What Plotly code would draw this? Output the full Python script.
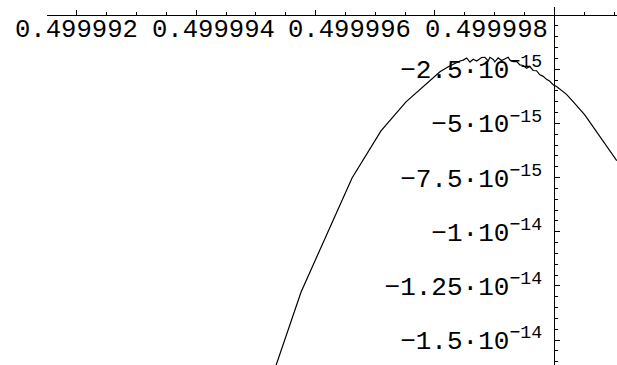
import plotly.graph_objects as go

# curve samples: x offset from 0.5 (units of 1e-6), value (units of 1e-15)
dx = [-4.761, -4.243, -3.389, -2.904, -2.485, -1.916, -1.777, -1.665, -1.582,
      -1.526, -1.469, -1.414, -1.359, -1.302, -1.218, -1.163, -1.108, -1.079,
      -1.024, -0.996, -0.941, -0.884, -0.828, -0.773, -0.745, -0.690, -0.633,
      -0.577, -0.522, -0.465, -0.410, -0.355, -0.298, -0.243, -0.187, -0.131,
      -0.075, -0.020, 0.037, 0.092, 0.204, 0.315, 0.510, 1.046]
dy = [-16.96, -12.78, -7.52, -5.35, -4.01, -2.62, -2.39, -2.23, -2.12,
      -2.08, -1.98, -2.17, -2.04, -2.12, -1.96, -1.95, -2.12, -1.95,
      -2.05, -2.16, -1.98, -2.10, -2.01, -1.95, -2.08, -2.15, -2.14,
      -2.30, -2.33, -2.46, -2.38, -2.56, -2.57, -2.76, -2.83, -2.97,
      -3.06, -3.22, -3.30, -3.42, -3.66, -4.00, -4.61, -6.72]

x = [0.5 + d * 1e-6 for d in dx]
y = [v * 1e-15 for v in dy]

x_ticks = [0.499992, 0.499994, 0.499996, 0.499998]
x_labels = ['0.499992', '0.499994', '0.499996', '0.499998']
y_ticks = [-2.5e-15, -5e-15, -7.5e-15, -1e-14, -1.25e-14, -1.5e-14]
y_labels = ['\u22122.5\u00b710<sup>\u221215</sup>', '\u22125\u00b710<sup>\u221215</sup>',
            '\u22127.5\u00b710<sup>\u221215</sup>', '\u22121\u00b710<sup>\u221214</sup>',
            '\u22121.25\u00b710<sup>\u221214</sup>', '\u22121.5\u00b710<sup>\u221214</sup>']

x_range = [0.4999915, 0.50000105]
y_range = [-16.15e-15, 0.37e-15]

xfont = dict(family='Liberation Mono', size=25.6, color='black')
yfont = dict(family='Liberation Mono', size=26, color='black')

fig = go.Figure(go.Scatter(x=x, y=y, mode='lines', line=dict(color='black', width=1.2),
                           hoverinfo='skip'))

fig.update_layout(
    width=617, height=365, margin=dict(l=47, r=0, t=7, b=0),
    plot_bgcolor='white', paper_bgcolor='white', showlegend=False,
    xaxis=dict(range=x_range, anchor='free',
               position=(0 - y_range[0]) / (y_range[1] - y_range[0]),
               showgrid=False, zeroline=False, showline=True, linecolor='black', linewidth=1,
               tick0=0.5, dtick=2e-6, ticks='inside', ticklen=5, tickcolor='black',
               showticklabels=False,
               minor=dict(dtick=0.5e-6, ticks='inside', ticklen=3, tickcolor='black')),
    yaxis=dict(range=y_range, anchor='free',
               position=(0.5 - x_range[0]) / (x_range[1] - x_range[0]),
               showgrid=False, zeroline=False, showline=True, linecolor='black', linewidth=1,
               side='left', ticks='inside', ticklen=5, tickcolor='black',
               tickvals=y_ticks, ticktext=y_labels, tickfont=yfont, ticklabelstandoff=7,
               minor=dict(dtick=0.5e-15, ticks='inside', ticklen=3, tickcolor='black')),
)

# x labels drift right relative to their ticks in the original
for i, (tv, tl) in enumerate(zip(x_ticks, x_labels)):
    fig.add_annotation(x=tv, y=0, xref='x', yref='y', text=tl, showarrow=False,
                       font=xfont, xanchor='center', yanchor='middle',
                       xshift=17.2 * i, yshift=-15)

fig.write_html("out.html", config={'displayModeBar': False},
               post_script="document.body.style.margin='0';")
